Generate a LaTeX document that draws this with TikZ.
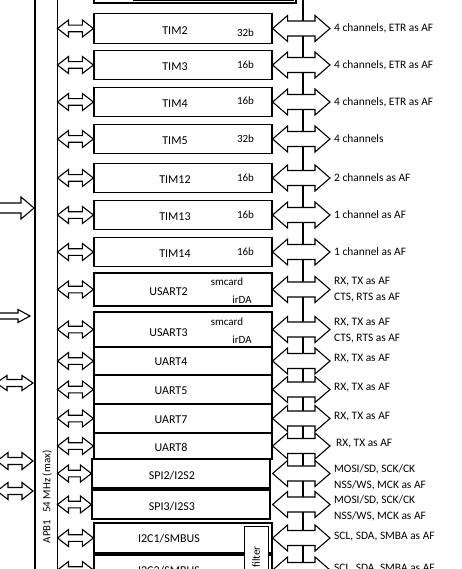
\documentclass[tikz,border=0pt]{standalone}
\usepackage{fontspec}
\setmainfont{Carlito}
\usetikzlibrary{calc}

\newcommand{\twowayarrow}[5]{%
  \draw[arrowline] let \p1=#1, \p2=#2 in
    (\x1,\y1) -- (\x1+#3pt,\y1+#4pt) -- (\x1+#3pt,\y1+#5pt) -- (\x2-#3pt,\y1+#5pt)
    -- (\x2-#3pt,\y1+#4pt) -- (\x2,\y1) -- (\x2-#3pt,\y1-#4pt) -- (\x2-#3pt,\y1-#5pt)
    -- (\x1+#3pt,\y1-#5pt) -- (\x1+#3pt,\y1-#4pt) -- cycle;}
\newcommand{\onewayarrow}[5]{%
  \draw[arrowline] let \p1=#1, \p2=#2 in
    (\x1,\y1+#5pt) -- (\x2-#3pt,\y1+#5pt) -- (\x2-#3pt,\y1+#4pt) -- (\x2,\y1)
    -- (\x2-#3pt,\y1-#4pt) -- (\x2-#3pt,\y1-#5pt) -- (\x1,\y1-#5pt);}

\begin{document}
\begin{tikzpicture}[x=1pt,y=-1pt,
  periph/.style={draw, line width=1.2pt, fill=white, minimum width=178pt, inner sep=0},
  arrowline/.style={draw, line width=1.1pt, fill=white, line join=miter},
  plbl/.style={font=\fontsize{12}{14}\selectfont, inner sep=0},
  sublbl/.style={font=\fontsize{11}{13}\selectfont, inner sep=0},
  pinlbl/.style={font=\fontsize{11.4}{16}\selectfont, anchor=west, inner sep=0, align=left}]
\useasboundingbox (0,0) rectangle (461,569);
\clip (0,0) rectangle (461,569);
\coordinate (apb) at (57.5,0);
\coordinate (busr) at (303,0);
\draw[line width=1.6pt] (35,-5) -- (35,575);
\draw[line width=1pt] (apb) -- (57.5,575);
\draw[line width=1.3pt] (busr) -- (303,575);
\node[sublbl, rotate=90] (apbl) at (47,497) {APB1\hspace{7pt}54 MHz (max)};
% inputs from the left
\coordinate (in1) at (-5,208); \coordinate (in1t) at (34,208);
\coordinate (in2) at (-5,316); \coordinate (in2t) at (30,316);
\coordinate (in3) at (-4,383); \coordinate (in3t) at (33,383);
\coordinate (in4) at (-3,461); \coordinate (in4t) at (33,461);
\coordinate (in5) at (-3,491); \coordinate (in5t) at (33,491);
\onewayarrow{(in1)}{(in1t)}{13}{11}{5}
\onewayarrow{(in2)}{(in2t)}{12}{6.5}{3}
\twowayarrow{(in3)}{(in3t)}{11}{7.5}{3.5}
\twowayarrow{(in4)}{(in4t)}{11}{8.5}{3.5}
\twowayarrow{(in5)}{(in5t)}{11}{8.5}{3.5}
% partly hidden block on top
\draw[line width=1.2pt, fill=white] (94,-10) rectangle (296,3);
\draw[line width=1pt, fill=gray!45] (133,-10) rectangle (293,1);
\draw[line width=1pt, fill=white] (140,-10) rectangle (277,-0.5);
% timers
\foreach \t/\yc/\by/\bits/\pins in {2/28.5/4/32b/{4 channels, ETR as AF},
    3/65/0/16b/{4 channels, ETR as AF}, 4/102/-1/16b/{4 channels, ETR as AF},
    5/139/0/32b/{4 channels}, 12/178/0/16b/{2 channels as AF},
    13/215/0/16b/{1 channel as AF}, 14/252/0/16b/{1 channel as AF}}{
  \node[periph, minimum height=29.5pt] (tim\t) at (183,\yc) {};
  \node[plbl] (timl\t) at (175,\yc+2) {TIM\t};
  \node[sublbl] (timb\t) at (245.5,\yc+\by) {\bits};
  \node[pinlbl] (timr\t) at (334,\yc) {\pins};
  \twowayarrow{(tim\t.west -| apb)}{(tim\t.west)}{11}{8.5}{3.3}
  \twowayarrow{(tim\t.east)}{([xshift=-4pt]timr\t.west)}{15}{13}{7.5}
}
% usarts
\node[periph, minimum height=33pt] (usart2) at (183,289.5) {};
\node[plbl] (usartl2) at (168.5,292) {USART2};
\node[sublbl] (smc2) at (227,282) {smcard};
\node[sublbl] (irda2) at (242,300) {irDA};
\node[pinlbl] (usartr2) at (334,290) {RX, TX as AF\\CTS, RTS as AF};
\node[periph, minimum height=35pt] (usart3) at (183,329.5) {};
\node[plbl] (usartl3) at (168.5,333) {USART3};
\node[sublbl] (smc3) at (227,322) {smcard};
\node[sublbl] (irda3) at (242,339.5) {irDA};
\node[pinlbl] (usartr3) at (334,330.5) {RX, TX as AF\\CTS, RTS as AF};
\foreach \u in {2,3}{
  \twowayarrow{(usart\u.west -| apb)}{(usart\u.west)}{11}{8.5}{3.3}
  \twowayarrow{(usart\u.east)}{([xshift=-4pt]usartr\u.west)}{15}{13}{7.5}
}
\foreach \u/\yc/\h/\px in {4/361/28/334, 5/389.5/29/334, 7/418.5/29/334, 8/446/26/336}{
  \node[periph, minimum height=\h pt] (uart\u) at (183,\yc) {};
  \node[plbl] (uartl\u) at (171,\yc+1) {UART\u};
  \node[pinlbl] (uartr\u) at (\px,\yc-2) {RX, TX as AF};
  \twowayarrow{(uart\u.west -| apb)}{(uart\u.west)}{11}{8.5}{3.3}
  \twowayarrow{(uart\u.east)}{([xshift=-4pt]uartr\u.west -| 334,0)}{15}{13}{7.5}
}
% spi / i2s
\foreach \s/\yc in {2/473.5, 3/504.5}{
  \node[periph, minimum height=29pt] (spi\s) at (181,\yc) {};
  \node[plbl] (spil\s) at (172,\yc+2) {SPI\s/I2S\s};
  \node[pinlbl] (spir\s) at (334,\yc+4) {MOSI/SD, SCK/CK\\NSS/WS, MCK as AF};
  \twowayarrow{(spi\s.west -| apb)}{(spi\s.west)}{11}{8.5}{3.3}
  \twowayarrow{([xshift=2pt]spi\s.east)}{([xshift=-4pt]spir\s.west)}{15}{13}{7.5}
}
% i2c
\foreach \c/\yc in {1/538, 2/570}{
  \node[periph, minimum height=30pt] (i2c\c) at (183,\yc) {};
  \node[plbl] (i2cl\c) at (169,\yc+1) {I2C\c/SMBUS};
  \node[pinlbl] (i2cr\c) at (334,\yc-1) {SCL, SDA, SMBA as AF};
  \twowayarrow{(i2c\c.west -| apb)}{(i2c\c.west)}{11}{8.5}{3.3}
  \twowayarrow{(i2c\c.east)}{([xshift=-4pt]i2cr\c.west)}{15}{13}{7.5}
}
\node[draw, line width=1pt, fill=white, minimum width=24pt, minimum height=56pt, inner sep=0] (filter) at (256,554) {};
\node[sublbl, rotate=90] (filterl) at (256,557) {filter};
\end{tikzpicture}
\end{document}
